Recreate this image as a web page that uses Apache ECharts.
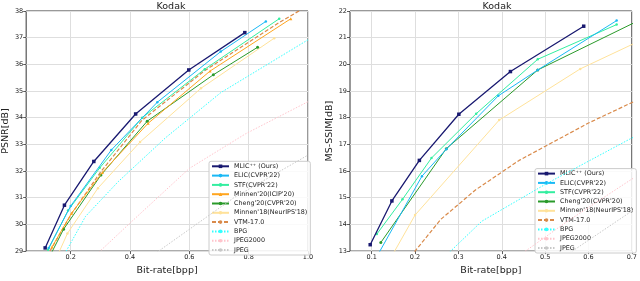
<!DOCTYPE html>
<html><head><meta charset="utf-8">
<script src="https://cdn.jsdelivr.net/npm/echarts@6/dist/echarts.min.js"></script>
<style>html,body{margin:0;padding:0;background:#fff}#c{width:640px;height:281px}</style>
</head><body><div id="c"></div>
<script>
// ---- Left panel: PSNR ----
const psnrNames = ["MLIC⁺⁺ (Ours)","ELIC(CVPR'22)","STF(CVPR'22)","Minnen'20(ICIP'20)","Cheng'20(CVPR'20)","Minnen'18(NeurIPS'18)","VTM-17.0","BPG","JPEG2000","JPEG"];
const mlicBpp = [0.114, 0.179, 0.278, 0.419, 0.598, 0.787];
const mlicPsnr = [29.12, 30.72, 32.36, 34.14, 35.79, 37.19];
const elicBpp = [0.126, 0.200, 0.337, 0.492, 0.706, 0.858];
const elicPsnr = [29.12, 30.69, 32.79, 34.58, 36.48, 37.61];
const stfBpp = [0.124, 0.191, 0.298, 0.441, 0.652, 0.903];
const stfPsnr = [29.05, 30.52, 32.12, 34.00, 35.82, 37.71];
const minnen20Bpp = [0.137, 0.203, 0.307, 0.461, 0.670, 0.942];
const minnen20Psnr = [29.15, 30.42, 31.95, 33.79, 35.75, 37.71];
const cheng20Bpp = [0.120, 0.176, 0.302, 0.458, 0.681, 0.830];
const cheng20Psnr = [28.60, 29.82, 31.85, 33.87, 35.61, 36.64];
const minnen18Bpp = [0.130, 0.189, 0.292, 0.434, 0.639, 0.886];
const minnen18Psnr = [28.20, 29.66, 31.36, 33.09, 35.10, 36.98];
const vtmBpp = [0.130, 0.200, 0.300, 0.440, 0.650, 0.900, 1.000];
const vtmPsnr = [29.00, 30.35, 31.95, 33.90, 35.75, 37.55, 38.20];
const bpgBpp = [0.170, 0.250, 0.360, 0.520, 0.706, 1.000];
const bpgPsnr = [28.70, 30.30, 31.60, 33.25, 34.94, 36.92];
const j2kBpp = [0.280, 0.400, 0.600, 0.790, 1.000];
const j2kPsnr = [28.80, 30.05, 32.10, 33.40, 34.60];
const jpegBpp = [0.490, 0.750, 1.000];
const jpegPsnr = [28.95, 31.00, 32.60];

// ---- Right panel: MS-SSIM ----
const msNames = ["MLIC⁺⁺ (Ours)","ELIC(CVPR'22)","STF(CVPR'22)","Cheng'20(CVPR'20)","Minnen'18(NeurIPS'18)","VTM-17.0","BPG","JPEG2000","JPEG"];
const mlicMsBpp = [0.0966, 0.1466, 0.210, 0.301, 0.420, 0.589];
const mlicMs = [13.24, 14.88, 16.40, 18.13, 19.73, 21.43];
const elicMsBpp = [0.110, 0.216, 0.272, 0.392, 0.483, 0.665];
const elicMs = [12.74, 15.81, 16.82, 18.82, 19.79, 21.64];
const stfMsBpp = [0.112, 0.171, 0.238, 0.341, 0.483, 0.665];
const stfMs = [13.64, 14.94, 16.49, 18.15, 20.19, 21.49];
const chengMsBpp = [0.121, 0.272, 0.483, 0.733];
const chengMs = [13.32, 16.84, 19.79, 21.78];
const minnen18MsBpp = [0.130, 0.200, 0.394, 0.581, 0.790];
const minnen18Ms = [12.34, 14.35, 17.91, 19.83, 21.43];
const vtmMsBpp = [0.190, 0.260, 0.340, 0.440, 0.600, 0.750];
const vtmMs = [12.80, 14.20, 15.30, 16.40, 17.80, 18.95];
const bpgMsBpp = [0.250, 0.354, 0.500, 0.700, 0.750];
const bpgMs = [12.50, 14.12, 15.50, 17.24, 17.60];
const j2kMsBpp = [0.420, 0.550, 0.700, 0.850];
const j2kMs = [12.60, 14.10, 15.70, 17.00];
const jpegMsBpp = [0.540, 0.700, 0.800];
const jpegMs = [12.75, 14.50, 15.50];

const psnrTicksX = [0.2, 0.4, 0.6, 0.8, 1.0];
const msTicksX = [0.1, 0.2, 0.3, 0.4, 0.5, 0.6, 0.7];

const FONT = 'DejaVu Sans';
const styles = {
  "MLIC⁺⁺ (Ours)": {color:'#191970', symbol:'rect', size:3.5, type:'solid', w:1.3},
  "ELIC(CVPR'22)": {color:'#1ab8f5', symbol:'circle', size:2.5, type:'solid', w:1},
  "STF(CVPR'22)": {color:'#33eea0', symbol:'circle', size:2.5, type:'solid', w:1},
  "Minnen'20(ICIP'20)": {color:'#ffa51f', symbol:'triangle', size:3, type:'solid', w:1},
  "Cheng'20(CVPR'20)": {color:'#2a9a2a', symbol:'circle', size:3, type:'solid', w:1},
  "Minnen'18(NeurIPS'18)": {color:'#ffe29a', symbol:'circle', size:2.5, type:'solid', w:1},
  "VTM-17.0": {color:'#d98a4a', symbol:'none', size:0, type:[4,2], w:1.2},
  "BPG": {color:'#33ffff', symbol:'none', size:0, type:[1.5,1.5], w:1},
  "JPEG2000": {color:'#ffc4cc', symbol:'none', size:0, type:[1.5,1.5], w:1},
  "JPEG": {color:'#c8c8c8', symbol:'none', size:0, type:[1.5,1.5], w:1}
};
function zip(a,b){return a.map((v,i)=>[v,b[i]]);}
function mk(name, xs, ys, idx){
  const s = styles[name];
  return {name, type:'line', xAxisIndex:idx, yAxisIndex:idx, data:zip(xs,ys),
    symbol:s.symbol, symbolSize:s.size, showSymbol:s.symbol!=='none',
    lineStyle:{color:s.color, width:s.w, type:s.type}, itemStyle:{color:s.color},
    clip:true, animation:false, z: 10 - psnrNames.indexOf(name)*0.1};
}
const series = [
  mk(psnrNames[0], mlicBpp, mlicPsnr, 0),
  mk(psnrNames[1], elicBpp, elicPsnr, 0),
  mk(psnrNames[2], stfBpp, stfPsnr, 0),
  mk(psnrNames[3], minnen20Bpp, minnen20Psnr, 0),
  mk(psnrNames[4], cheng20Bpp, cheng20Psnr, 0),
  mk(psnrNames[5], minnen18Bpp, minnen18Psnr, 0),
  mk(psnrNames[6], vtmBpp, vtmPsnr, 0),
  mk(psnrNames[7], bpgBpp, bpgPsnr, 0),
  mk(psnrNames[8], j2kBpp, j2kPsnr, 0),
  mk(psnrNames[9], jpegBpp, jpegPsnr, 0),
  mk(msNames[0], mlicMsBpp, mlicMs, 1),
  mk(msNames[1], elicMsBpp, elicMs, 1),
  mk(msNames[2], stfMsBpp, stfMs, 1),
  mk(msNames[3], chengMsBpp, chengMs, 1),
  mk(msNames[4], minnen18MsBpp, minnen18Ms, 1),
  mk(msNames[5], vtmMsBpp, vtmMs, 1),
  mk(msNames[6], bpgMsBpp, bpgMs, 1),
  mk(msNames[7], j2kMsBpp, j2kMs, 1),
  mk(msNames[8], jpegMsBpp, jpegMs, 1)
];
const axisLine = {show:false};
const tick = {show:true, length:3, inside:false, lineStyle:{color:'#333', width:0.8}};
const split = {show:true, lineStyle:{color:'#dedede', width:1}};
const lbl = {fontFamily:FONT, fontSize:6.5, color:'#222', margin:3};
function xAx(idx, min, max, ticks){
  return {type:'value', gridIndex:idx, min, max,
    name:'Bit-rate[bpp]', nameLocation:'middle', nameGap:14,
    nameTextStyle:{fontFamily:FONT, fontSize:9.5, color:'#222'},
    axisLine, axisTick:{...tick, customValues:ticks}, splitLine:split,
    axisLabel:{...lbl, customValues:ticks, formatter:v=>v.toFixed(1)}};
}
function yAx(idx, min, max, name){
  return {type:'value', gridIndex:idx, min, max, interval:1,
    name, nameLocation:'middle', nameGap:15,
    nameTextStyle:{fontFamily:FONT, fontSize:9.5, color:'#222'},
    axisLine, axisTick:tick, splitLine:split,
    axisLabel:{...lbl, formatter:v=>String(v)}};
}
const legendCommon = {orient:'vertical', itemWidth:17, itemHeight:4.5, itemGap:3.3, itemTextGap:2,
  textStyle:{fontFamily:FONT, fontSize:6.4, color:'#222'},
  backgroundColor:'rgba(255,255,255,0.85)', borderColor:'#cccccc', borderWidth:1, borderRadius:2,
  padding:[2,3,2,2], selectedMode:false};
const option = {
  animation:false,
  backgroundColor:'#fff',
  title:[
    {text:'Kodak', left:166, top:-3, textAlign:'center', textStyle:{fontFamily:FONT, fontSize:9.5, fontWeight:'normal', color:'#222'}},
    {text:'Kodak', left:492, top:-3, textAlign:'center', textStyle:{fontFamily:FONT, fontSize:9.5, fontWeight:'normal', color:'#222'}}
  ],
  grid:[
    {left:24, right:332, top:11, bottom:23, show:true, borderColor:'#333', borderWidth:1, backgroundColor:'transparent', containLabel:false},
    {left:350, right:5, top:11, bottom:23, show:true, borderColor:'#333', borderWidth:1, backgroundColor:'transparent', containLabel:false}
  ],
  xAxis:[xAx(0, 0.05, 1.0, psnrTicksX), xAx(1, 0.05, 0.7, msTicksX)],
  yAxis:[yAx(0, 29, 38, 'PSNR[dB]'), yAx(1, 13, 22, 'MS-SSIM[dB]')],
  legend:[
    {...legendCommon, left:209, bottom:26, data:psnrNames},
    {...legendCommon, left:535, bottom:28, data:msNames}
  ],
  series
};
const chart = echarts.init(document.getElementById('c'), null, {renderer:'canvas'});
chart.setOption(option);
</script></body></html>
